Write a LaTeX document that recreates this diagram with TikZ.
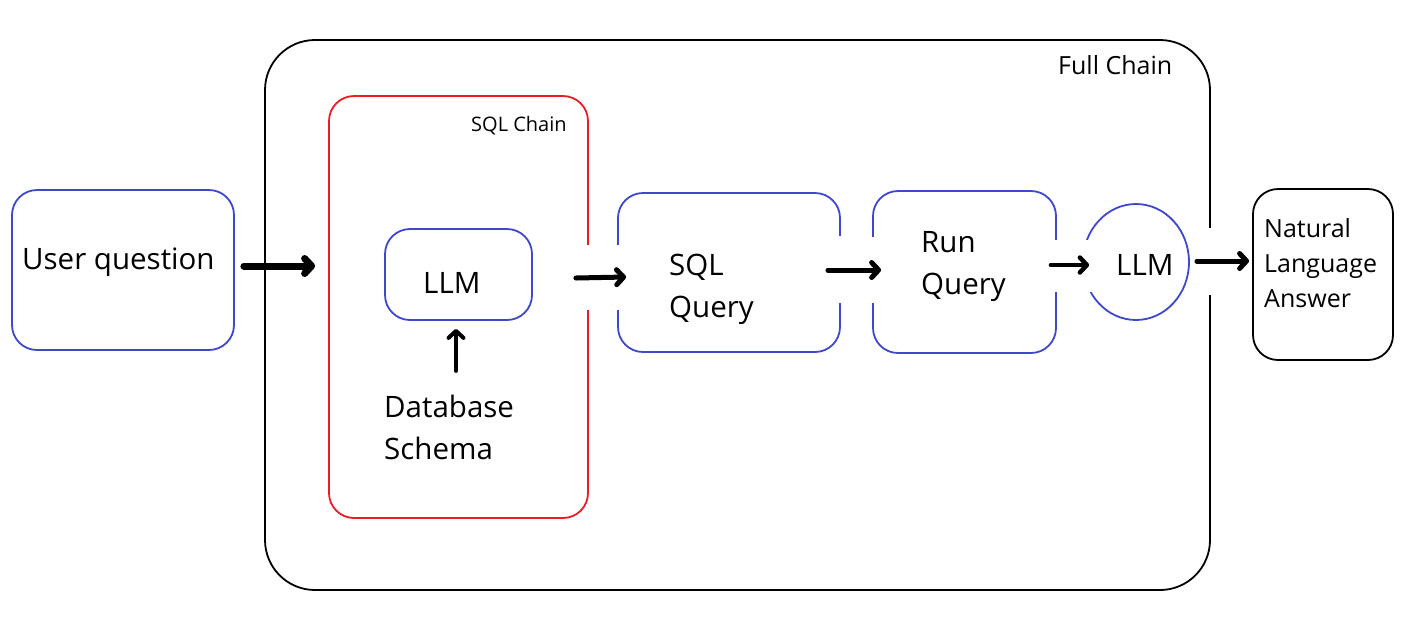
\documentclass[tikz,border=0pt]{standalone}
\usepackage{fontspec}
\setmainfont{Open Sans}
\usetikzlibrary{arrows.meta,shapes.geometric}
\definecolor{boxblue}{RGB}{63,72,204}
\definecolor{chainred}{RGB}{237,28,36}
\begin{document}
\begin{tikzpicture}[x=1pt,y=-1pt,
        box/.style 2 args={rectangle,minimum width=#1pt,minimum height=#2pt,inner sep=0pt},
        bluebox/.style={draw=boxblue,line width=1.8pt,rounded corners=25pt},
        txt/.style={inner sep=0pt,anchor=west,align=left,font=\fontsize{29.5}{42}\selectfont},
        arr/.style={line width=5pt,line cap=round,-{Straight Barb[round,length=7pt,width=15pt]}},
        gap/.style={white,line width=5pt}]
    \useasboundingbox (0,0) rectangle (1416,625);
    % chains
    \node[box={945}{550},draw=black,line width=1.8pt,rounded corners=50pt] (fullc) at (737.5,315) {};
    \node[box={259}{422},draw=chainred,line width=1.8pt,rounded corners=25pt] (sqlc) at (458.5,307) {};
    \node[txt,font=\fontsize{25}{28}\selectfont] (fullct) at (1058,65) {Full Chain};
    \node[txt,font=\fontsize{20}{22}\selectfont] (sqlct) at (471,126) {SQL Chain};
    % steps
    \node[box={222}{160},bluebox] (uq) at (123,270) {};
    \node[box={147}{91},bluebox] (llm1) at (458.5,274.5) {};
    \node[box={222}{159},bluebox] (sqlq) at (729,272.5) {};
    \node[box={183}{162},bluebox] (runq) at (964.5,272) {};
    \node[ellipse,minimum width=106pt,minimum height=116pt,inner sep=0pt,draw=boxblue,line width=1.8pt] (llm2) at (1136,262) {};
    \node[box={140}{171},draw=black,line width=1.8pt,rounded corners=25pt] (ans) at (1323,274.5) {};
    % labels
    \node[txt] (uqt) at (22,262) {User question};
    \node[txt] (llm1t) at (423,283) {LLM};
    \node[txt] (db) at (384,427) {Database\\Schema};
    \node[txt] (sqlqt) at (669,289) {SQL\\Query};
    \node[txt] (runqt) at (921,267) {Run\\Query};
    \node[txt] (llm2t) at (1116,265) {LLM};
    \node[txt,font=\fontsize{25}{35}\selectfont] (anst) at (1264,263) {Natural\\Language\\Answer};
    % openings where the arrows pass
    \foreach \x/\a/\b in {588/245/310,618/245/310,840/236/303,873/237/303,1056/240/292,1210/228/295}
        \draw[gap] (\x,\a) -- (\x,\b);
    \fill[white] (1079,240) rectangle (1092,292);
    % arrows
    \draw[arr,line width=7pt] ([xshift=9pt,yshift=4pt]uq.east) -- ([xshift=-13pt,yshift=41pt]sqlc.west);
    \draw[arr] ([xshift=43pt,yshift=-3.5pt]llm1.east) -- ([xshift=9pt,yshift=-4.5pt]sqlq.west);
    \draw[arr] ([xshift=-13pt,yshift=2.5pt]sqlq.east) -- ([xshift=9pt,yshift=2pt]runq.west);
    \draw[arr,line width=4.5pt] ([xshift=-6pt,yshift=7pt]runq.east) -- ([xshift=7pt,yshift=-3pt]llm2.west);
    \draw[arr] ([xshift=7pt,yshift=1pt]llm2.east) -- ([xshift=-3pt,yshift=13.5pt]ans.west);
    \draw[arr,line width=4pt] ([xshift=-2.5pt,yshift=-50pt]llm1.south) -- ([xshift=-2.5pt,yshift=-8pt]llm1.south);
\end{tikzpicture}
\end{document}
